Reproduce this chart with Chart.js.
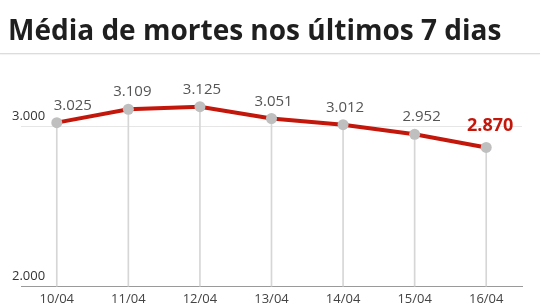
<!DOCTYPE html>
<html>
<head>
<meta charset="utf-8">
<script src="https://cdn.jsdelivr.net/npm/chart.js@4/dist/chart.umd.min.js"></script>
<style>
  html, body { margin: 0; padding: 0; width: 540px; height: 304px; overflow: hidden; background: #fff; }
  #title { position: absolute; left: 8px; top: 10px; margin: 0; font: 700 28px "Open Sans", sans-serif; color: #1f1f1f; white-space: nowrap; line-height: normal; z-index: 2; }
  #rule { position: absolute; left: 0; top: 53px; width: 540px; height: 1px; background: #dcdcdc; box-shadow: 0 1px 1px rgba(0,0,0,0.06); z-index: 2; }
  #c { position: absolute; left: 0; top: 0; }
</style>
</head>
<body>
<h1 id="title">Média de mortes nos últimos 7 dias</h1>
<div id="rule"></div>
<canvas id="c" width="540" height="313"></canvas>
<script>
const categories = ['10/04', '11/04', '12/04', '13/04', '14/04', '15/04', '16/04'];
const deaths = [3025, 3109, 3125, 3051, 3012, 2952, 2870];
const yTicks = [2000, 3000];

function fmt(v) {
  return String(Math.round(v)).replace(/\B(?=(\d{3})+(?!\d))/g, '.');
}

const labelDx = [16, 4, 2, 2, 2, 7, 4];

const valueLabels = {
  id: 'valueLabels',
  afterDatasetsDraw(chart) {
    const meta = chart.getDatasetMeta(0);
    const ctx = chart.ctx;
    ctx.save();
    ctx.textAlign = 'center';
    ctx.textBaseline = 'alphabetic';
    meta.data.forEach((pt, i) => {
      const last = i === meta.data.length - 1;
      ctx.font = last ? '700 18px "Open Sans"' : '400 15px "Open Sans"';
      ctx.fillStyle = last ? '#c4170c' : '#555555';
      ctx.fillText(fmt(deaths[i]), pt.x + labelDx[i], pt.y - (last ? 16 : 13));
    });
    ctx.restore();
  }
};

function draw() {
  new Chart(document.getElementById('c'), {
    type: 'line',
    data: {
      labels: categories,
      datasets: [
        {
          type: 'line',
          data: deaths,
          borderColor: '#c4170c',
          borderWidth: 4,
          tension: 0,
          pointRadius: 5.5,
          pointBackgroundColor: '#bfbfbf',
          pointBorderWidth: 0,
          order: 1
        },
        {
          type: 'bar',
          data: deaths,
          backgroundColor: '#d6d6d6',
          borderWidth: 0,
          barThickness: 1,
          order: 2
        }
      ]
    },
    options: {
      responsive: false,
      animation: false,
      layout: { padding: { left: 21, right: 18, top: 94.7, bottom: 1 } },
      plugins: { legend: { display: false }, tooltip: { enabled: false }, title: { display: false } },
      scales: {
        x: {
          offset: true,
          grid: { display: false, drawTicks: false },
          border: { display: true, color: '#9a9a9a', width: 1 },
          ticks: { color: '#444', padding: 5, font: { family: 'Open Sans', size: 13 }, maxRotation: 0 }
        },
        y: {
          min: 2000,
          max: 3200,
          afterBuildTicks: (scale) => { scale.ticks = yTicks.map(v => ({ value: v })); },
          afterFit: (scale) => { scale.width = 0; },
          grid: {
            drawTicks: false,
            color: (c) => (c.tick && c.tick.value === 3000 ? '#e6e6e6' : 'rgba(0,0,0,0)')
          },
          border: { display: false },
          ticks: {
            mirror: true,
            padding: -9,
            labelOffset: -10,
            color: '#333',
            font: { family: 'Open Sans', size: 13 },
            callback: (v) => fmt(v)
          }
        }
      }
    },
    plugins: [valueLabels]
  });
}

if (document.fonts && document.fonts.load) {
  Promise.all([
    document.fonts.load('400 15px "Open Sans"'),
    document.fonts.load('700 18px "Open Sans"')
  ]).then(draw, draw);
} else {
  draw();
}
</script>
</body>
</html>
